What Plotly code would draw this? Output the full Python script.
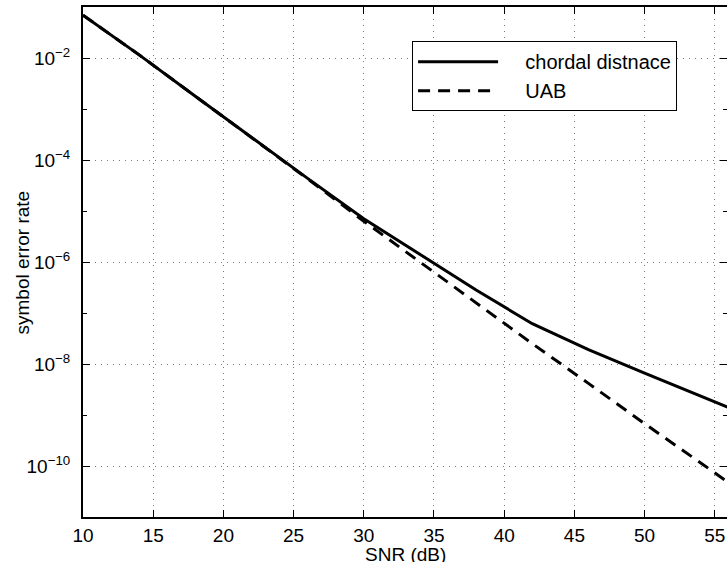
import plotly.graph_objects as go

# SNR in dB
snr_db = [10, 14, 18, 22, 26, 30, 34, 38, 42, 46, 50, 54, 58]
# symbol error rate, chordal distance (simulation)
ser_chordal = [6.92e-2, 1.15e-2, 1.78e-3, 2.75e-4, 4.37e-5, 7.08e-6, 1.41e-6,
               2.82e-7, 6.17e-8, 1.91e-8, 6.61e-9, 2.34e-9, 8.3e-10]
# union bound (UAB)
ser_uab = [6.92e-2, 1.15e-2, 1.78e-3, 2.75e-4, 4.27e-5, 6.31e-6, 1.0e-6,
           1.58e-7, 2.51e-8, 4.17e-9, 6.76e-10, 1.15e-10, 1.91e-11]

series_names = ["chordal distnace", "UAB"]
x_title = "SNR (dB)"
y_title = "symbol error rate"
x_ticks = [10, 15, 20, 25, 30, 35, 40, 45, 50, 55]
y_ticks = [1e-2, 1e-4, 1e-6, 1e-8, 1e-10]
y_ticklabels = ["10<sup>\u22122</sup>", "10<sup>\u22124</sup>", "10<sup>\u22126</sup>",
                "10<sup>\u22128</sup>", "10<sup>\u221210</sup>"]
y_minor = [1e-3, 1e-5, 1e-7, 1e-9]

FONT = "Liberation Sans, Arial, Helvetica, sans-serif"
GRID = dict(showgrid=True, gridcolor="#7a7a7a", gridwidth=1, griddash="1px,5px")
PAD = "\u00a0" * 4

fig = go.Figure()
fig.add_trace(go.Scatter(x=snr_db, y=ser_chordal, mode="lines", name=PAD + series_names[0],
                         line=dict(color="black", width=3)))
fig.add_trace(go.Scatter(x=snr_db, y=ser_uab, mode="lines", name=PAD + series_names[1],
                         line=dict(color="black", width=3, dash="12px,8px")))
fig.add_trace(go.Scatter(x=[], y=[], yaxis="y2", showlegend=False, hoverinfo="skip"))

fig.update_layout(
    width=727, height=562,
    margin=dict(l=83, r=0, t=7, b=45, autoexpand=False),
    paper_bgcolor="white", plot_bgcolor="white",
    font=dict(family=FONT, size=19, color="black"),
    xaxis=dict(range=[10, 55.87], tickmode="array", tickvals=x_ticks, automargin=False,
               ticks="inside", ticklen=7, tickwidth=1, tickcolor="black",
               showline=True, linewidth=2, linecolor="black", mirror="ticks",
               zeroline=False, tickfont=dict(size=19),
               **GRID),
    yaxis=dict(type="log", range=[-11, -1], tickmode="array", tickvals=y_ticks,
               ticktext=y_ticklabels, ticks="inside", ticklen=7, tickwidth=1,
               tickcolor="black", showline=True, linewidth=2, linecolor="black",
               mirror=False, zeroline=False, tickfont=dict(size=19), automargin=False,
               ticklabelstandoff=7,
               minor=dict(tickmode="array", tickvals=y_minor, ticks="inside", ticklen=4,
                          tickcolor="black", showgrid=False),
               **GRID),
    yaxis2=dict(type="log", range=[-11, -1], overlaying="y", side="right", anchor="x",
                tickmode="array", tickvals=y_ticks, showticklabels=False, automargin=False,
                ticks="inside", ticklen=7, tickwidth=1, tickcolor="black",
                showline=False, showgrid=False, zeroline=False,
                minor=dict(tickmode="array", tickvals=y_minor, ticks="inside", ticklen=4,
                           tickcolor="black", showgrid=False)),
    legend=dict(x=0.511, y=0.933, xanchor="left", yanchor="top",
                bgcolor="white", bordercolor="black", borderwidth=1,
                font=dict(size=20), itemwidth=80, tracegroupgap=0),
    showlegend=True,
    annotations=[
        dict(text=x_title, xref="paper", yref="paper", x=0.5, y=-0.074,
             xanchor="center", yanchor="middle", showarrow=False,
             font=dict(size=19, family=FONT)),
        dict(text=y_title, xref="paper", yref="paper", x=-0.094, y=0.5,
             xanchor="center", yanchor="middle", textangle=-90, showarrow=False,
             font=dict(size=19, family=FONT)),
    ],
)

fig.write_html(
    "out.html",
    config={"displayModeBar": False},
    post_script="document.body.style.margin='0';document.body.style.overflow='hidden';",
)
